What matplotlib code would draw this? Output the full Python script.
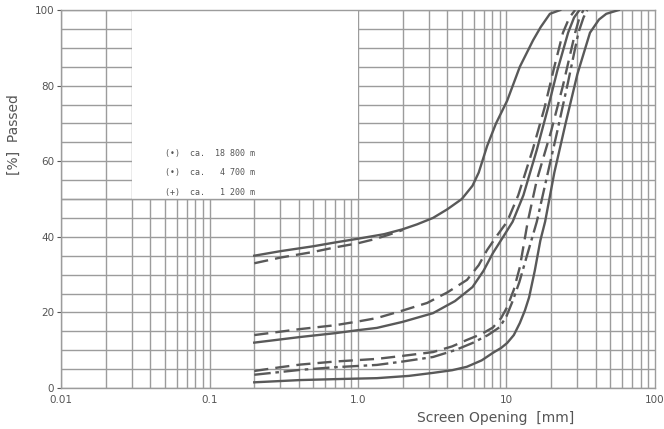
import matplotlib.pyplot as plt
import numpy as np
from matplotlib.patches import Rectangle

# sieve curves, d in mm, passing in %
a_solid_d = [0.2, 0.3, 0.5, 0.7, 1.0, 1.5, 2.0, 2.5, 3.2, 4.0, 5.0, 5.9, 6.5,
             7.4, 8.5, 10.1, 12.3, 15.1, 17.0, 19.6, 23.0]
a_solid_p = [35, 36.2, 37.5, 38.5, 39.5, 40.7, 42, 43.3, 45, 47.3, 50, 53.5, 57,
             64, 70, 76, 85, 92, 95.5, 99, 100]
a_dash_d = [0.2, 0.3, 0.5, 0.7, 1.0, 1.3, 1.6, 2.0]
a_dash_p = [33, 34.5, 36, 37.2, 38.3, 39.4, 40.5, 41.8]

b_dash_d = [0.2, 0.41, 0.7, 1.0, 1.34, 2.0, 2.92, 4.0, 5.42, 6.5, 7.4, 8.7,
            10.1, 12.0, 15.0, 18.0, 21.0, 24.0, 26.5, 29.0]
b_dash_p = [14, 15.6, 16.6, 17.6, 18.5, 20.5, 22.5, 25.3, 28.6, 32.5, 36.5, 40.5,
            44, 51, 63, 74, 85, 94, 98, 100]
b_solid_d = [0.2, 0.41, 0.7, 1.0, 1.34, 2.0, 3.2, 4.5, 5.9, 7.0, 8.1, 9.5, 11.0,
             13.0, 16.0, 19.0, 22.0, 26.0, 28.5, 31.0]
b_solid_p = [12, 13.5, 14.5, 15.3, 15.9, 17.5, 19.8, 23, 26.7, 31, 35.7, 40, 44,
             51, 63, 74, 84, 94, 98, 100]

c_dash_d = [0.2, 0.3, 0.41, 0.7, 1.34, 2.0, 3.2, 4.3, 5.4, 6.8, 8.1, 9.2, 10.1,
            11.2, 12.3, 13.9, 16.0, 20.0, 24.0, 29.0, 31.0, 33.0]
c_dash_p = [4.5, 5.5, 6.2, 7, 7.7, 8.5, 9.5, 11, 12.7, 14.3, 16, 18.5, 21.4,
            26, 32, 44, 55, 68, 80, 94, 98, 100]
c_dot_d = [0.2, 0.41, 0.7, 1.34, 2.0, 3.2, 4.5, 5.9, 7.5, 9.0, 10.0, 11.0, 12.2,
           13.5, 16.0, 19.0, 22.0, 26.0, 30.5, 33.0, 35.0]
c_dot_p = [3.5, 4.8, 5.5, 6.1, 7, 8.2, 10, 11.9, 14, 16.1, 19, 23, 28,
           34, 44, 57, 68, 81, 94, 98, 100]

d_solid_d = [0.2, 0.41, 0.8, 1.34, 2.2, 3.2, 4.3, 5.4, 6.8, 8.1, 9.2, 10.1, 11.2,
             12.3, 13.3, 14.2, 15.5, 16.9, 18.2, 21.0, 25.0, 30.0, 36.5, 42.0,
             47.0, 57.0]
d_solid_p = [1.5, 2.1, 2.4, 2.6, 3.2, 4.0, 4.7, 5.6, 7.3, 9.3, 10.6, 11.9, 14,
             17.2, 20.5, 24, 31, 39, 44, 57, 70, 83, 94, 97.5, 99, 100]

legend_lines = ["(•)  ca.  18 800 m", "(•)  ca.   4 700 m", "(+)  ca.   1 200 m"]

x_ticks = [0.01, 0.1, 1.0, 10, 100]
x_ticklabels = ["0.01", "0.1", "1.0", "10", "100"]
y_ticks = [0, 20, 40, 60, 80, 100]

line_col = "#595959"
grid_col = "#9c9c9c"
dash = (0, (6, 3))

fig = plt.figure(figsize=(6.64, 4.29), dpi=100)
ax = fig.add_axes([0.092, 0.0956, 0.8944, 0.881])
ax.set_xscale("log")
ax.set_xlim(0.01, 100)
ax.set_ylim(0, 100)

# grid paper
for dec in [0.01, 0.1, 1, 10]:
    for m in range(1, 10):
        ax.axvline(dec * m, color=grid_col, lw=1.0, zorder=0)
for p in range(0, 101, 5):
    ax.axhline(p, color=grid_col, lw=1.0, zorder=0)

# blank legend panel
ax.add_patch(Rectangle((0.03, 50), 1.0 - 0.03, 50.5, facecolor="white",
                       edgecolor="none", zorder=1))
ax.axhline(50, xmin=0, xmax=0.5, color=grid_col, lw=1.0, zorder=1.5)

ax.plot(a_solid_d, a_solid_p, color=line_col, lw=1.7, zorder=3)
ax.plot(a_dash_d, a_dash_p, color=line_col, lw=1.7, ls=dash, zorder=3)
ax.plot(b_dash_d, b_dash_p, color=line_col, lw=1.7, ls=dash, zorder=3)
ax.plot(b_solid_d, b_solid_p, color=line_col, lw=1.7, zorder=3)
ax.plot(c_dash_d, c_dash_p, color=line_col, lw=1.7, ls=dash, zorder=3)
ax.plot(c_dot_d, c_dot_p, color=line_col, lw=1.7, ls=(0, (7, 2, 1.5, 2)), zorder=3)
ax.plot(d_solid_d, d_solid_p, color=line_col, lw=1.7, zorder=3)

for i, t in enumerate(legend_lines):
    ax.text(0.05, 62 - i * 5.1, t, fontsize=6, family="DejaVu Sans Mono",
            color="#555555", va="center", zorder=4)

ax.set_xticks(x_ticks)
ax.set_xticklabels(x_ticklabels)
ax.xaxis.set_minor_locator(plt.NullLocator())
ax.set_yticks(y_ticks)
ax.tick_params(axis="both", labelsize=7.5, colors="#555555", length=3, pad=2)
ax.tick_params(axis="x", length=0, pad=5)
for s in ax.spines.values():
    s.set_color(grid_col)
    s.set_linewidth(1.0)

ax.set_ylabel("[%]  Passed", fontsize=10, color="#555555")
ax.yaxis.set_label_coords(-0.068, 0.67)
fig.text(0.747, 0.026, "Screen Opening  [mm]", fontsize=10, color="#555555",
         ha="center", va="center")

fig.savefig("out.png", dpi=100)
